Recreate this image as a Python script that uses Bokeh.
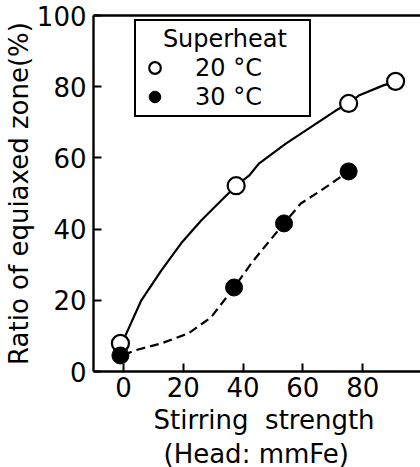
from bokeh.plotting import figure
from bokeh.models import (Range1d, FixedTicker, LinearAxis, Legend, LegendItem, Title)
from bokeh.embed import file_html
from bokeh.resources import INLINE

# ---- data ----
x_20 = [-1, 37.7, 75.3, 91]
y_20 = [7.9, 52.2, 75.3, 81.5]
x_30 = [-1, 37, 53.7, 75.3]
y_30 = [4.5, 23.6, 41.6, 56.2]

# fitted curves as drawn in the picture
curve20_x = [0, 1, 6, 12.7, 19.3, 26, 31.7, 37.7, 42, 45.3, 54.3, 63.3, 71, 75.3, 78.7, 86.7, 91]
curve20_y = [9, 10.7, 20, 28.4, 36, 42.4, 47.2, 52.2, 55, 58.4, 64, 69, 73.3, 75.3, 77.5, 80.3, 81.5]
curve30_x = [0, 3.7, 12.7, 21.7, 29.3, 37, 42.7, 47, 53.7, 59.3, 66, 75.3]
curve30_y = [4.6, 5.9, 7.9, 10.7, 15.2, 23.6, 30.3, 34.8, 41.6, 47.2, 50.8, 56.2]

x_ticks = [0, 20, 40, 60, 80]
y_ticks = [0, 20, 40, 60, 80, 100]

legend_title = "Superheat"
series_labels = ["20 °C", "30 °C"]
x_title = ["Stirring\u00a0 strength", "(Head: mmFe)"]
y_title = "Ratio of equiaxed zone(%)"

FONT = "DejaVu Sans"
NBSP = "\u00a0"

p = figure(width=420, height=467, output_backend="svg", toolbar_location=None,
           x_range=Range1d(-10, 99.33), y_range=Range1d(0, 100),
           min_border_left=92, min_border_right=0, min_border_top=15, min_border_bottom=96)
p.outline_line_color = None
p.xgrid.visible = False
p.ygrid.visible = False
p.background_fill_color = "white"
p.border_fill_color = "white"

for ax, ticks in ((p.xaxis[0], x_ticks), (p.yaxis[0], y_ticks)):
    ax.ticker = FixedTicker(ticks=ticks)
    ax.axis_line_width = 2.4
    ax.axis_line_color = "black"
    ax.major_tick_line_width = 2
    ax.major_tick_line_color = "black"
    ax.major_tick_in = 8
    ax.major_tick_out = 0
    ax.minor_tick_line_color = None
    ax.major_label_text_font = FONT
    ax.major_label_text_font_size = "26px"
    ax.major_label_text_color = "black"
p.xaxis.major_label_standoff = 5
p.yaxis.major_label_standoff = 7

p.yaxis.axis_label = y_title
p.yaxis.axis_label_text_font = FONT
p.yaxis.axis_label_text_font_size = "26px"
p.yaxis.axis_label_text_font_style = "normal"
p.yaxis.axis_label_text_color = "black"
p.yaxis.axis_label_standoff = 0

top = LinearAxis(ticker=FixedTicker(ticks=[]), axis_line_width=2.4, axis_line_color="black",
                 major_tick_in=0, major_tick_out=0, major_label_standoff=0,
                 minor_tick_line_color=None, major_tick_line_color=None)
p.add_layout(top, "above")

for txt, off, so in ((x_title[0], 60, 6), (x_title[1], 70, -2)):
    p.add_layout(Title(text=txt, align="left", offset=off, standoff=so,
                       text_font=FONT, text_font_size="26px", text_font_style="normal",
                       text_color="black"), "below")

# curves
p.line(curve20_x, curve20_y, line_color="black", line_width=2.2)
p.line(curve30_x, curve30_y, line_color="black", line_width=2.2, line_dash="9 5")

# points
r20 = p.scatter(x_20, y_20, marker="circle", size=17, fill_color="white",
                line_color="black", line_width=2.2)
r30 = p.scatter(x_30, y_30, marker="circle", size=17, fill_color="black",
                line_color="black", line_width=1)

legend = Legend(items=[LegendItem(label=series_labels[0], renderers=[r20]),
                       LegendItem(label=series_labels[1], renderers=[r30])],
                location=(41, 254), title=NBSP * 3 + legend_title, title_text_font=FONT,
                title_text_font_size="24px", title_text_font_style="normal",
                title_text_color="black", title_standoff=0,
                padding=4, spacing=-4, glyph_width=29, glyph_height=29,
                label_width=110, label_height=29, label_standoff=26, margin=0,
                border_line_color="black", border_line_width=2, border_line_alpha=1,
                background_fill_color="white", background_fill_alpha=1,
                label_text_font=FONT, label_text_font_size="24px",
                label_text_color="black")
p.add_layout(legend)

open("out.html", "w").write(file_html(p, INLINE))
